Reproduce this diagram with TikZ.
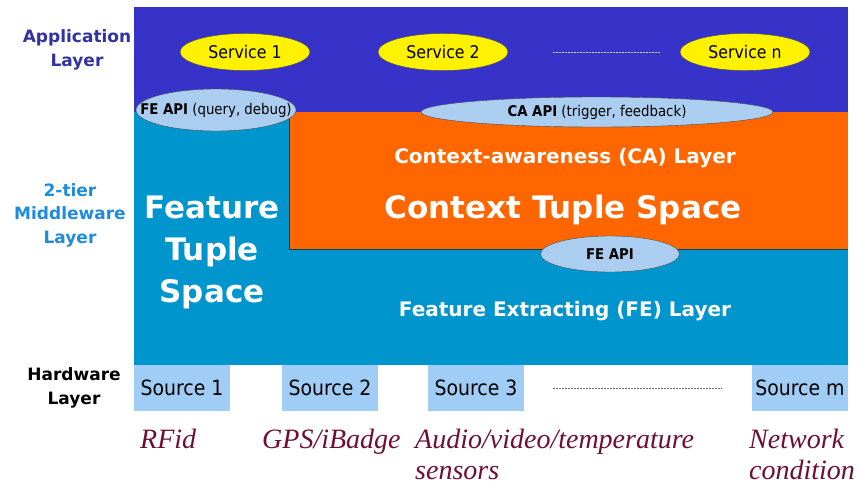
\documentclass[tikz,border=0pt]{standalone}
\usepackage{fontspec}
\setmainfont{DejaVu Sans}
\newfontfamily\condfont{DejaVu Sans Condensed}
\newfontfamily\timesfont{Liberation Serif}
\usetikzlibrary{shapes.geometric}

\definecolor{appblue}{RGB}{55,50,200}
\definecolor{midteal}{RGB}{0,150,205}
\definecolor{caorange}{RGB}{255,102,0}
\definecolor{apiblue}{RGB}{170,205,240}
\definecolor{srcblue}{RGB}{160,205,245}
\definecolor{labnavy}{RGB}{50,50,160}
\definecolor{labsky}{RGB}{30,140,220}
\definecolor{devmaroon}{RGB}{110,15,50}

\tikzset{
  service/.style={ellipse, draw=black!70, fill=yellow, minimum width=130pt,
    minimum height=37pt, inner sep=0pt, font=\condfont\fontsize{17.5}{17.5}\selectfont},
  api/.style={ellipse, draw=black!70, fill=apiblue, inner sep=0pt},
  apitext/.style={inner sep=0pt, font=\condfont\fontsize{14.8}{15}\selectfont},
  source/.style={fill=srcblue, minimum width=96pt, minimum height=46pt,
    inner sep=0pt, font=\condfont\fontsize{21}{21}\selectfont},
  layerlab/.style={align=center, font=\bfseries\fontsize{17}{23.5}\selectfont},
  boldwhite/.style={text=white, align=center, font=\bfseries\fontsize{20}{20}\selectfont},
  bigwhite/.style={text=white, align=center, font=\bfseries\fontsize{31}{42}\selectfont},
  device/.style={anchor=north west, inner sep=0pt, align=left, text=devmaroon,
    font=\timesfont\itshape\fontsize{28}{31}\selectfont},
  dots/.style={dashed, dash pattern=on 2pt off 1pt, line width=0.6pt},
}

\begin{document}
\begin{tikzpicture}[x=1pt,y=-1pt]
\useasboundingbox (0,0) rectangle (859,487);
% layers
\fill[appblue] (134,7) rectangle (848,112);
\fill[midteal] (134,112) rectangle (848,365);
\fill[caorange] (289,112) rectangle (848,249);
\draw[black!55!midteal, line width=1pt] (289.5,112) -- (289.5,249.5) -- (848,249.5);

% application layer
\foreach \x/\n in {245/1,443/2,745/n}{
  \node[service] (svc\n) at (\x,52) {Service \n};
}
\draw[dots, white!75!appblue] ([xshift=45pt]svc2.east) -- ([xshift=-20pt]svcn.west);

% middleware
\node[boldwhite] (calayer) at (565,158) {Context-awareness (CA) Layer};
\node[bigwhite] (cts) at (563,210) {Context Tuple Space};
\node[bigwhite] (fts) at (212,252) {Feature\\Tuple\\Space};
\node[boldwhite] (felayer) at (565,311) {Feature Extracting (FE) Layer};

\node[api, minimum width=160pt, minimum height=42pt,
  label={[apitext]center:{\textbf{FE API} (query, debug)}}] (feapi) at (216,110) {};
\node[api, minimum width=352pt, minimum height=30pt,
  label={[apitext]center:{\textbf{CA API} (trigger, feedback)}}] (caapi) at (597,112) {};
\node[api, minimum width=139pt, minimum height=36pt,
  label={[apitext]center:{\textbf{FE API}}}] (feapi2) at (610,254) {};

% hardware
\foreach \x/\n in {182/1,330/2,476/3,800/m}{
  \node[source] (src\n) at (\x,388) {Source \n};
}
\draw[dots, black!60] ([xshift=29pt]src3.east) -- ([xshift=-30pt]srcm.west);

% side labels
\node[layerlab, text=labnavy] (applab) at (77,50) {Application\\Layer};
\node[layerlab, text=labsky] (midlab) at (70,215) {2-tier\\Middleware\\Layer};
\node[layerlab, text=black] (hwlab) at (74,388) {Hardware\\Layer};

% devices
\node[device] (rfid) at (140,429) {RFid};
\node[device] (gps) at (262,429) {GPS/iBadge};
\node[device] (audio) at (415,429) {Audio/video/temperature\\sensors};
\node[device] (net) at (749,429) {Network\\condition};
\end{tikzpicture}
\end{document}
